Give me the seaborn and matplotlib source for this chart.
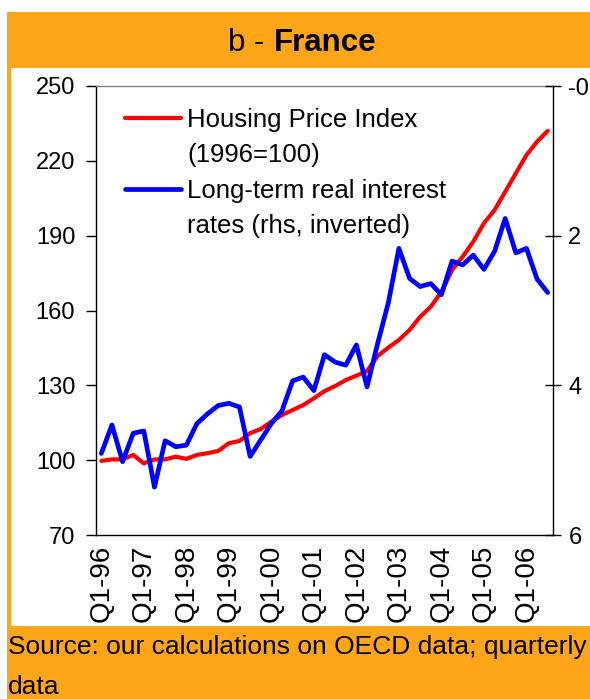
import numpy as np
import pandas as pd
import matplotlib
matplotlib.use("Agg")
import matplotlib.pyplot as plt
from matplotlib.patches import Rectangle
from matplotlib.lines import Line2D
import seaborn as sns

# ---------------- data ----------------
housing_price_index = [99.7, 100.3, 100.3, 102.1, 98.7, 100.3, 100.3, 101.4, 100.5, 102.1,
                       102.8, 103.7, 106.8, 107.7, 110.8, 112.5, 115.4, 118.1, 120.1, 122.1,
                       124.8, 127.7, 129.7, 132.1, 133.9, 135.7, 141.8, 145.1, 148.2, 152.2,
                       157.5, 161.5, 167.5, 176.2, 181.6, 187.6, 195.0, 200.3, 207.6, 215.0,
                       222.3, 227.7, 232.0]
real_interest_rate = [4.91, 4.53, 5.02, 4.64, 4.61, 5.36, 4.74, 4.82, 4.80, 4.51,
                      4.38, 4.27, 4.24, 4.29, 4.95, 4.73, 4.51, 4.34, 3.94, 3.89,
                      4.07, 3.59, 3.69, 3.73, 3.46, 4.02, 3.44, 2.90, 2.17, 2.57,
                      2.68, 2.64, 2.79, 2.34, 2.39, 2.26, 2.45, 2.21, 1.77, 2.23,
                      2.17, 2.58, 2.76]
year_labels = ["Q1-96", "Q1-97", "Q1-98", "Q1-99", "Q1-00", "Q1-01",
               "Q1-02", "Q1-03", "Q1-04", "Q1-05", "Q1-06"]
left_ticks = [70, 100, 130, 160, 190, 220, 250]
right_ticks = [0, 2, 4, 6]
right_tick_labels = ["-0", "2", "4", "6"]

df = pd.DataFrame({"q": np.arange(len(housing_price_index)),
                   "hpi": housing_price_index,
                   "rate": real_interest_rate})

# ---------------- style ----------------
sns.set_style("white")
plt.rcParams["font.family"] = ["Liberation Sans", "DejaVu Sans"]
plt.rcParams["text.color"] = "black"
plt.rcParams["axes.labelcolor"] = "black"
plt.rcParams["xtick.color"] = "black"
plt.rcParams["ytick.color"] = "black"

W, H = 590, 699
fig = plt.figure(figsize=(W / 100, H / 100), dpi=100)
fig.patch.set_facecolor("white")

ORANGE = "#FFA519"
# orange frame and white panel
fig.patches.append(Rectangle((7 / W, 0), (W - 7) / W, (H - 12) / H,
                             transform=fig.transFigure, facecolor=ORANGE,
                             edgecolor="none", zorder=-10))
fig.patches.append(Rectangle((11 / W, (H - 626) / H), (W - 11) / W, (626 - 68) / H,
                             transform=fig.transFigure, facecolor="white",
                             edgecolor="none", zorder=-9))

# title
fig.text(273 / W, 1 - 51 / H, "b - ", ha="right", va="baseline", fontsize=22.5,
         color="black")
fig.text(274 / W, 1 - 51 / H, "France", ha="left", va="baseline", fontsize=22.5,
         fontweight="bold", color="black")

# source
fig.text(8 / W, 1 - 647 / H, "Source: our calculations on OECD data; quarterly",
         ha="left", va="center", fontsize=19, color="black")
fig.text(8 / W, 1 - 687 / H, "data", ha="left", va="center", fontsize=19,
         color="black")

# axes
ax = fig.add_axes([96 / W, (H - 535) / H, (553 - 96) / W, (535 - 86) / H])
ax.set_facecolor("none")
ax2 = ax.twinx()

sns.lineplot(data=df, x="q", y="hpi", ax=ax, color="#FF0000", linewidth=3.0)
sns.lineplot(data=df, x="q", y="rate", ax=ax2, color="#0000FF", linewidth=3.4)

n = len(df)
ax.set_xlim(-0.5, n - 0.5)
ax.set_ylim(70, 250)
ax.set_yticks(left_ticks)
ax.set_yticklabels([str(t) for t in left_ticks])
ax2.set_ylim(6, 0)
ax2.set_yticks(right_ticks)
ax2.set_yticklabels(right_tick_labels)

ax.set_xticks(np.arange(0, n, 4))
ax.set_xticklabels(year_labels, rotation=90)
ax.set_xticks(np.arange(-0.5, n, 1), minor=True)
ax.set_xlabel("")
ax.set_ylabel("")
ax2.set_ylabel("")

ax.tick_params(axis="x", which="major", length=0, pad=7, labelsize=20, colors="black")
ax.tick_params(axis="x", which="minor", length=5, width=1, direction="out", color="black")
ax.tick_params(axis="y", which="major", length=7, width=1, direction="out", pad=8,
               labelsize=17, colors="black", left=True)
ax2.tick_params(axis="y", which="major", length=12, width=1, direction="inout", pad=5,
                labelsize=17, colors="black", right=True)

for s in ["left", "bottom"]:
    ax.spines[s].set_color("black")
    ax.spines[s].set_linewidth(1.0)
ax.spines["top"].set_color("#808080")
ax.spines["top"].set_linewidth(1.0)
ax.spines["right"].set_visible(False)
for s in ["left", "bottom", "top"]:
    ax2.spines[s].set_visible(False)
ax2.spines["right"].set_color("black")
ax2.spines["right"].set_linewidth(1.0)
ax.grid(False)
ax2.grid(False)

# legend
handles = [Line2D([], [], color="#FF0000", lw=3.0),
           Line2D([], [], color="none"),
           Line2D([], [], color="#0000FF", lw=3.4),
           Line2D([], [], color="none")]
labels = ["Housing Price Index", "(1996=100)",
          "Long-term real interest", "rates (rhs, inverted)"]
leg = ax2.legend(handles, labels, loc="upper left", bbox_to_anchor=(0.04, 0.975),
                 frameon=False, fontsize=18.5, handlelength=2.2, handletextpad=0.23,
                 labelspacing=0.45, borderaxespad=0)

fig.savefig("out.png", dpi=100, facecolor=fig.get_facecolor())
